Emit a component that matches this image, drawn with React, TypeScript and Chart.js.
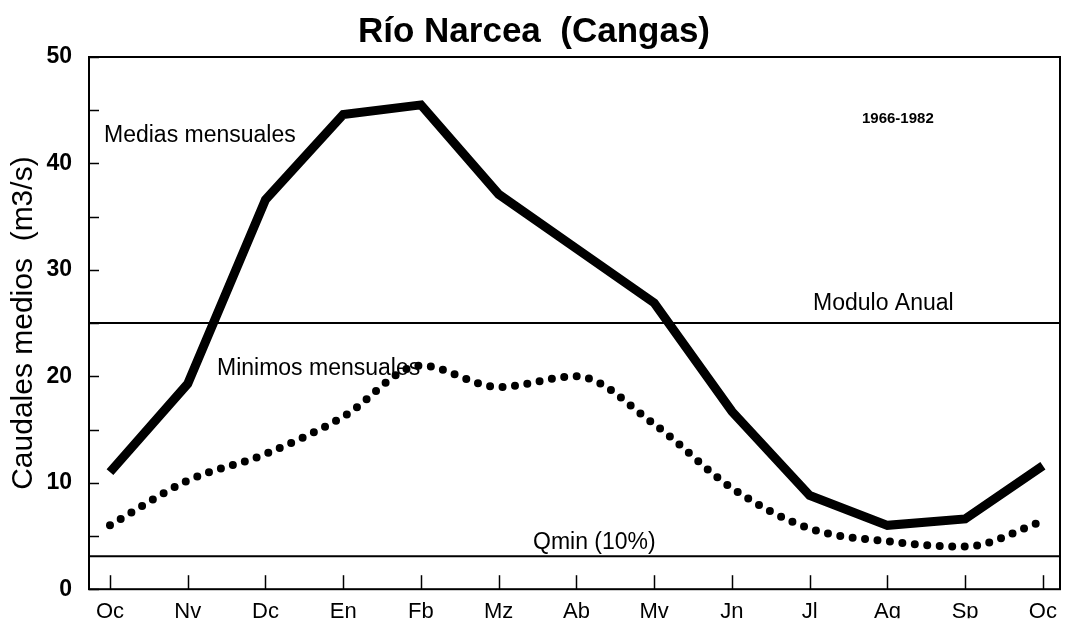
import React, { useEffect, useRef } from "react";
import { Chart, registerables } from "chart.js";

Chart.register(...registerables);

const months = ["Oc", "Nv", "Dc", "En", "Fb", "Mz", "Ab", "Mv", "Jn", "Jl", "Ag", "Sp", "Oc"];
const monthIndex = [0, 1, 2, 3, 4, 5, 6, 7, 8, 9, 10, 11, 12];
const mediasMensuales = [11.0, 19.3, 36.6, 44.6, 45.5, 37.1, 32.0, 26.9, 16.7, 8.8, 6.0, 6.6, 11.6];
const minimosMensuales = [6.0, 10.2, 12.7, 16.2, 21.0, 19.0, 20.0, 15.5, 9.5, 5.7, 4.5, 4.0, 6.4];
const moduloAnual = 25;
const qMin = 3.1;
const yMinorTicks = [0, 5, 10, 15, 20, 25, 30, 35, 40, 45, 50];
const chartTitle = "Río Narcea  (Cangas)";
const yTitle = "Caudales medios  (m3/s)";
const periodLabel = "1966-1982";
const seriesLabels = ["Medias mensuales", "Minimos mensuales"];
const refLabels = ["Modulo Anual", "Qmin (10%)"];

const FONT = '"Liberation Sans", Arial, Helvetica, sans-serif';

const decorPlugin = {
  id: "decor",
  beforeDatasetsDraw(chart: any) {
    const { ctx, chartArea } = chart;
    const { left, right, top, bottom } = chartArea;
    const x = chart.scales.x;
    const y = chart.scales.y;
    ctx.save();
    ctx.strokeStyle = "#000";
    ctx.fillStyle = "#000";
    // frame
    ctx.lineWidth = 2;
    ctx.strokeRect(left, top, right - left, bottom - top);
    // y ticks (inward)
    ctx.lineWidth = 1.5;
    yMinorTicks.forEach((v) => {
      const py = Math.round(y.getPixelForValue(v)) + 0.5;
      ctx.beginPath();
      ctx.moveTo(left, py);
      ctx.lineTo(left + 10, py);
      ctx.stroke();
    });
    // x ticks (inward)
    monthIndex.forEach((v) => {
      const px = Math.round(x.getPixelForValue(v)) + 0.5;
      ctx.beginPath();
      ctx.moveTo(px, bottom);
      ctx.lineTo(px, bottom - 14);
      ctx.stroke();
    });
    // reference lines
    ctx.lineWidth = 2;
    [moduloAnual, qMin].forEach((v) => {
      const py = y.getPixelForValue(v);
      ctx.beginPath();
      ctx.moveTo(left, py);
      ctx.lineTo(right, py);
      ctx.stroke();
    });
    // annotations
    ctx.textBaseline = "alphabetic";
    ctx.textAlign = "left";
    ctx.font = `23px ${FONT}`;
    ctx.fillText(seriesLabels[0], 104, 142);
    ctx.fillText(seriesLabels[1], 217, 375);
    ctx.fillText(refLabels[0], 813, 310);
    ctx.fillText(refLabels[1], 533, 549);
    ctx.font = `bold 15px ${FONT}`;
    ctx.fillText(periodLabel, 862, 123);
    // title
    ctx.font = `bold 35px ${FONT}`;
    ctx.textAlign = "center";
    ctx.fillText(chartTitle, 534, 42);
    ctx.restore();
  },
};

export default function App() {
  const ref = useRef<HTMLCanvasElement | null>(null);
  useEffect(() => {
    if (!ref.current) return;
    Chart.defaults.font.family = FONT;
    const chart = new Chart(ref.current, {
      type: "line",
      data: {
        datasets: [
          {
            label: seriesLabels[0],
            data: monthIndex.map((m, i) => ({ x: m, y: mediasMensuales[i] })),
            borderColor: "#000",
            borderWidth: 9,
            borderJoinStyle: "miter",
            borderCapStyle: "butt",
            pointRadius: 0,
            tension: 0,
            fill: false,
          },
          {
            label: seriesLabels[1],
            data: monthIndex.map((m, i) => ({ x: m, y: minimosMensuales[i] })),
            borderColor: "#000",
            borderWidth: 8,
            borderDash: [0, 12.5],
            borderCapStyle: "round",
            pointRadius: 0,
            cubicInterpolationMode: "monotone",
            fill: false,
          },
        ],
      },
      options: {
        animation: false,
        responsive: false,
        maintainAspectRatio: false,
        layout: { padding: { top: 57, right: 9, left: 0, bottom: 0 } },
        plugins: {
          legend: { display: false },
          tooltip: { enabled: false },
          title: { display: false },
        },
        scales: {
          x: {
            type: "linear",
            min: -0.27,
            max: 12.22,
            afterFit: (s: any) => {
              s.height = 29;
            },
            border: { display: false },
            grid: { display: false, drawTicks: false },
            ticks: {
              stepSize: 1,
              includeBounds: false,
              autoSkip: false,
              maxRotation: 0,
              padding: 10,
              color: "#000",
              font: { size: 22 },
              callback: (v: any) => months[v] ?? "",
            },
          },
          y: {
            min: 0,
            max: 50,
            afterFit: (s: any) => {
              s.width = 89;
            },
            border: { display: false },
            grid: { display: false, drawTicks: false },
            ticks: {
              stepSize: 10,
              padding: 17,
              color: "#000",
              font: { size: 23, weight: "bold" },
            },
            title: {
              display: true,
              text: yTitle,
              color: "#000",
              font: { size: 30 },
              padding: { top: 6, bottom: 0 },
            },
          },
        },
      },
      plugins: [decorPlugin],
    } as any);
    return () => chart.destroy();
  }, []);
  return (
    <div style={{ position: "absolute", left: 0, top: 0, width: 1069, height: 620, background: "#fff" }}>
      <canvas ref={ref} width={1069} height={620} />
    </div>
  );
}
